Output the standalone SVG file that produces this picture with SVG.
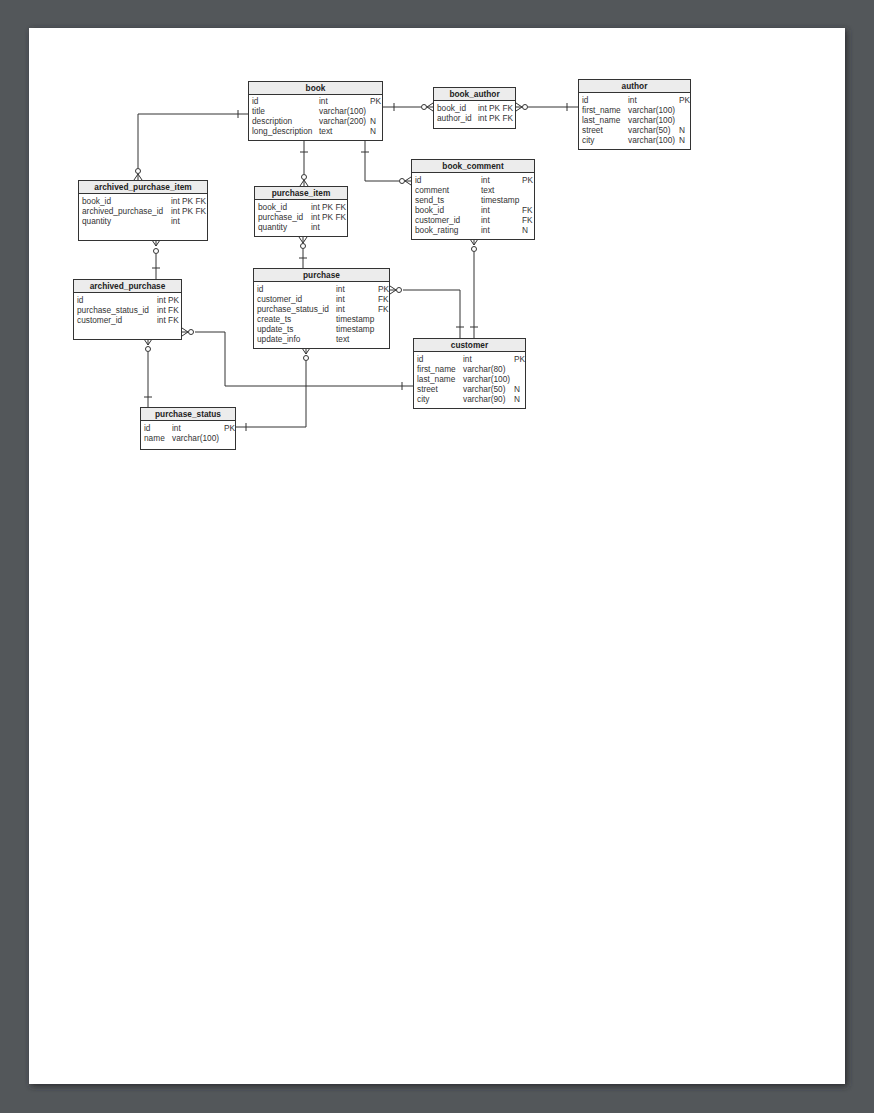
<svg xmlns="http://www.w3.org/2000/svg" width="874" height="1113" viewBox="0 0 874 1113">
<defs>
<filter id="sh" x="-5%" y="-5%" width="110%" height="110%"><feGaussianBlur stdDeviation="3"/></filter>
<style>
.t{fill:#fff;stroke:#333;stroke-width:1}
.h{fill:#ececec;stroke:#333;stroke-width:1}
.hd{font-family:"Liberation Sans",Arial,sans-serif;font-size:8.3px;font-weight:bold;fill:#222;text-anchor:middle}
.r{font-family:"Liberation Sans",Arial,sans-serif;font-size:8.3px;fill:#333}
.c{fill:none;stroke:#333;stroke-width:1}
.o{fill:#fff;stroke:#333;stroke-width:1}
</style>
</defs>
<rect width="874" height="1113" fill="#53575a"/>
<rect x="31" y="30" width="816" height="1056" fill="#2a2c2e" filter="url(#sh)"/>
<rect x="29" y="28" width="816" height="1056" fill="#fff"/>

<g id="connectors">
<!-- book - book_author -->
<path class="c" d="M383 107H421M394 103V111M433 103L427 107L433 111M427 107H433"/>
<circle class="o" cx="424" cy="107" r="2.5"/>
<!-- book_author - author -->
<path class="c" d="M578 107H528M567 103V111M516 103L522 107L516 111M516 107H522"/>
<circle class="o" cx="525" cy="107" r="2.5"/>
<!-- book - archived_purchase_item -->
<path class="c" d="M248 114H138V168M238 110V118M134 180L138 174L142 180M138 174V180"/>
<circle class="o" cx="138" cy="171" r="2.5"/>
<!-- book - purchase_item -->
<path class="c" d="M304 141V174M300 152H308M300 186L304 180L308 186M304 180V186"/>
<circle class="o" cx="304" cy="177" r="2.5"/>
<!-- book - book_comment -->
<path class="c" d="M365 141V181H399M361 152H369M411 177L405 181L411 185M405 181H411"/>
<circle class="o" cx="402" cy="181" r="2.5"/>
<!-- purchase_item - purchase -->
<path class="c" d="M303 249V268M299 258H307M299 237L303 243L307 237M303 237V243"/>
<circle class="o" cx="303" cy="246" r="2.5"/>
<!-- archived_purchase_item - archived_purchase -->
<path class="c" d="M156 254V279M152 268H160M152 240L156 246L160 240M156 240V246"/>
<circle class="o" cx="156" cy="251" r="2.5"/>
<!-- book_comment - customer -->
<path class="c" d="M474 252V338M470 327H478M470 239L474 245L478 239M474 239V245"/>
<circle class="o" cx="474" cy="249" r="2.5"/>
<!-- purchase - customer -->
<path class="c" d="M403 290H460V338M456 327H464M390 286L396 290L390 294M390 290H396"/>
<circle class="o" cx="399" cy="290" r="2.5"/>
<!-- archived_purchase - customer -->
<path class="c" d="M195 332H225V386H413M402 382V390M182 328L188 332L182 336M182 332H188"/>
<circle class="o" cx="191" cy="332" r="2.5"/>
<!-- archived_purchase - purchase_status -->
<path class="c" d="M148 352V407M144 397H152M144 339L148 345L152 339M148 339V345"/>
<circle class="o" cx="148" cy="349" r="2.5"/>
<!-- purchase - purchase_status -->
<path class="c" d="M306 361V427H236M246 423V431M302 348L306 354L310 348M306 348V354"/>
<circle class="o" cx="306" cy="358" r="2.5"/>
</g>

<g id="book">
<rect class="t" x="248.5" y="81.5" width="134" height="59"/>
<rect class="h" x="248.5" y="81.5" width="134" height="13"/>
<text class="hd" x="315.5" y="91">book</text>
<text class="r" x="252" y="104">id</text><text class="r" x="319" y="104">int</text><text class="r" x="370" y="104">PK</text>
<text class="r" x="252" y="114">title</text><text class="r" x="319" y="114">varchar(100)</text>
<text class="r" x="252" y="124">description</text><text class="r" x="319" y="124">varchar(200)</text><text class="r" x="370" y="124">N</text>
<text class="r" x="252" y="134">long_description</text><text class="r" x="319" y="134">text</text><text class="r" x="370" y="134">N</text>
</g>

<g id="book_author">
<rect class="t" x="433.5" y="87.5" width="82" height="41"/>
<rect class="h" x="433.5" y="87.5" width="82" height="13"/>
<text class="hd" x="474.5" y="97">book_author</text>
<text class="r" x="437" y="111">book_id</text><text class="r" x="478" y="111">int PK FK</text>
<text class="r" x="437" y="121">author_id</text><text class="r" x="478" y="121">int PK FK</text>
</g>

<g id="author">
<rect class="t" x="578.5" y="79.5" width="112" height="70"/>
<rect class="h" x="578.5" y="79.5" width="112" height="13"/>
<text class="hd" x="634.5" y="89">author</text>
<text class="r" x="582" y="103">id</text><text class="r" x="628" y="103">int</text><text class="r" x="679" y="103">PK</text>
<text class="r" x="582" y="113">first_name</text><text class="r" x="628" y="113">varchar(100)</text>
<text class="r" x="582" y="123">last_name</text><text class="r" x="628" y="123">varchar(100)</text>
<text class="r" x="582" y="133">street</text><text class="r" x="628" y="133">varchar(50)</text><text class="r" x="679" y="133">N</text>
<text class="r" x="582" y="143">city</text><text class="r" x="628" y="143">varchar(100)</text><text class="r" x="679" y="143">N</text>
</g>

<g id="book_comment">
<rect class="t" x="411.5" y="159.5" width="123" height="80"/>
<rect class="h" x="411.5" y="159.5" width="123" height="13"/>
<text class="hd" x="473" y="169">book_comment</text>
<text class="r" x="415" y="183">id</text><text class="r" x="481" y="183">int</text><text class="r" x="522" y="183">PK</text>
<text class="r" x="415" y="193">comment</text><text class="r" x="481" y="193">text</text>
<text class="r" x="415" y="203">send_ts</text><text class="r" x="481" y="203">timestamp</text>
<text class="r" x="415" y="213">book_id</text><text class="r" x="481" y="213">int</text><text class="r" x="522" y="213">FK</text>
<text class="r" x="415" y="223">customer_id</text><text class="r" x="481" y="223">int</text><text class="r" x="522" y="223">FK</text>
<text class="r" x="415" y="233">book_rating</text><text class="r" x="481" y="233">int</text><text class="r" x="522" y="233">N</text>
</g>

<g id="archived_purchase_item">
<rect class="t" x="78.5" y="180.5" width="129" height="60"/>
<rect class="h" x="78.5" y="180.5" width="129" height="13"/>
<text class="hd" x="143" y="190">archived_purchase_item</text>
<text class="r" x="82" y="204">book_id</text><text class="r" x="171" y="204">int PK FK</text>
<text class="r" x="82" y="214">archived_purchase_id</text><text class="r" x="171" y="214">int PK FK</text>
<text class="r" x="82" y="224">quantity</text><text class="r" x="171" y="224">int</text>
</g>

<g id="purchase_item">
<rect class="t" x="254.5" y="186.5" width="93" height="50"/>
<rect class="h" x="254.5" y="186.5" width="93" height="13"/>
<text class="hd" x="301" y="196">purchase_item</text>
<text class="r" x="258" y="210">book_id</text><text class="r" x="311" y="210">int PK FK</text>
<text class="r" x="258" y="220">purchase_id</text><text class="r" x="311" y="220">int PK FK</text>
<text class="r" x="258" y="230">quantity</text><text class="r" x="311" y="230">int</text>
</g>

<g id="archived_purchase">
<rect class="t" x="73.5" y="279.5" width="108" height="60"/>
<rect class="h" x="73.5" y="279.5" width="108" height="13"/>
<text class="hd" x="127.5" y="289">archived_purchase</text>
<text class="r" x="77" y="303">id</text><text class="r" x="157" y="303">int PK</text>
<text class="r" x="77" y="313">purchase_status_id</text><text class="r" x="157" y="313">int FK</text>
<text class="r" x="77" y="323">customer_id</text><text class="r" x="157" y="323">int FK</text>
</g>

<g id="purchase">
<rect class="t" x="253.5" y="268.5" width="136" height="80"/>
<rect class="h" x="253.5" y="268.5" width="136" height="13"/>
<text class="hd" x="321.5" y="278">purchase</text>
<text class="r" x="257" y="292">id</text><text class="r" x="336" y="292">int</text><text class="r" x="378" y="292">PK</text>
<text class="r" x="257" y="302">customer_id</text><text class="r" x="336" y="302">int</text><text class="r" x="378" y="302">FK</text>
<text class="r" x="257" y="312">purchase_status_id</text><text class="r" x="336" y="312">int</text><text class="r" x="378" y="312">FK</text>
<text class="r" x="257" y="322">create_ts</text><text class="r" x="336" y="322">timestamp</text>
<text class="r" x="257" y="332">update_ts</text><text class="r" x="336" y="332">timestamp</text>
<text class="r" x="257" y="342">update_info</text><text class="r" x="336" y="342">text</text>
</g>

<g id="customer">
<rect class="t" x="413.5" y="338.5" width="112" height="70"/>
<rect class="h" x="413.5" y="338.5" width="112" height="13"/>
<text class="hd" x="469.5" y="348">customer</text>
<text class="r" x="417" y="362">id</text><text class="r" x="463" y="362">int</text><text class="r" x="514" y="362">PK</text>
<text class="r" x="417" y="372">first_name</text><text class="r" x="463" y="372">varchar(80)</text>
<text class="r" x="417" y="382">last_name</text><text class="r" x="463" y="382">varchar(100)</text>
<text class="r" x="417" y="392">street</text><text class="r" x="463" y="392">varchar(50)</text><text class="r" x="514" y="392">N</text>
<text class="r" x="417" y="402">city</text><text class="r" x="463" y="402">varchar(90)</text><text class="r" x="514" y="402">N</text>
</g>

<g id="purchase_status">
<rect class="t" x="140.5" y="407.5" width="95" height="42"/>
<rect class="h" x="140.5" y="407.5" width="95" height="13"/>
<text class="hd" x="188" y="417">purchase_status</text>
<text class="r" x="144" y="431">id</text><text class="r" x="172" y="431">int</text><text class="r" x="224" y="431">PK</text>
<text class="r" x="144" y="441">name</text><text class="r" x="172" y="441">varchar(100)</text>
</g>
</svg>
